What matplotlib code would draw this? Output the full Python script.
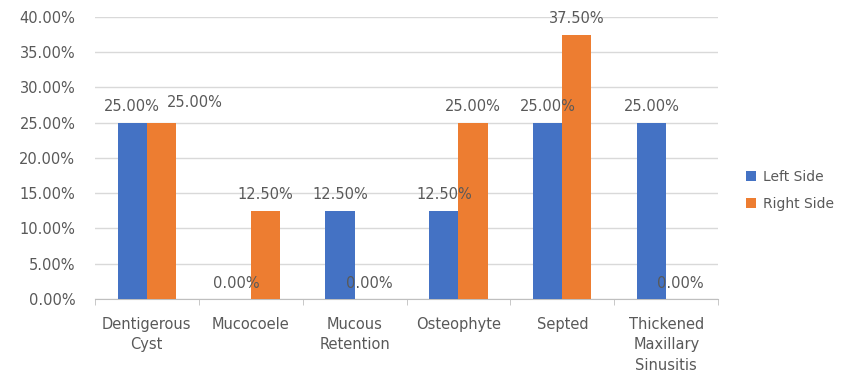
import numpy as np
import matplotlib.pyplot as plt
from matplotlib.ticker import FuncFormatter, MultipleLocator

# Findings by side (percent)
categories = ["Dentigerous\nCyst", "Mucocoele", "Mucous\nRetention", "Osteophyte",
              "Septed", "Thickened\nMaxillary\nSinusitis"]
left_side = [25.0, 0.0, 12.5, 12.5, 25.0, 25.0]
right_side = [25.0, 12.5, 0.0, 25.0, 37.5, 0.0]

blue = "#4472C4"
orange = "#ED7D31"
text_col = "#595959"

plt.rcParams['font.family'] = ['DejaVu Sans']

fig = plt.figure(figsize=(8.54, 3.76), dpi=100)
ax = fig.add_axes([0.111, 0.205, 0.730, 0.75])

x = np.arange(len(categories))
w = 0.28
b1 = ax.bar(x - w / 2, left_side, w, color=blue, label="Left Side", zorder=3)
b2 = ax.bar(x + w / 2, right_side, w, color=orange, label="Right Side", zorder=3)

# labels that would sit on top of each other get nudged aside (points)
nudge = {(1, 0): (24, 3)}

for s, (bars, vals) in enumerate([(b1, left_side), (b2, right_side)]):
    for i, (bar, v) in enumerate(zip(bars, vals)):
        dx, dy = nudge.get((s, i), (0, 0))
        ax.annotate(f"{v:.2f}%", (bar.get_x() + bar.get_width() / 2, v),
                    xytext=(dx, 6 + dy), textcoords="offset points",
                    ha="center", va="bottom", fontsize=10.5, color=text_col, zorder=4)

ax.set_xlim(-0.5, len(categories) - 0.5)
ax.set_ylim(0, 40)
ax.yaxis.set_major_locator(MultipleLocator(5))
ax.yaxis.set_major_formatter(FuncFormatter(lambda v, p: f"{v:.2f}%"))
ax.grid(axis="y", color="#d9d9d9", linewidth=1, zorder=0)

ax.set_xticks(x)
ax.set_xticklabels(categories, fontsize=10.5, color=text_col, linespacing=1.45)
ax.set_xticks(np.arange(-0.5, len(categories)), minor=True)
ax.tick_params(axis="x", which="major", length=0, pad=13)
ax.tick_params(axis="x", which="minor", length=4, color="#bfbfbf")
ax.tick_params(axis="y", length=0, labelsize=10.5, labelcolor=text_col, pad=14)

for s in ["top", "right", "left"]:
    ax.spines[s].set_visible(False)
ax.spines["bottom"].set_color("#bfbfbf")

ax.legend(loc="center left", bbox_to_anchor=(1.025, 0.385), frameon=False,
          fontsize=10, labelcolor=text_col, handlelength=0.7, handleheight=0.7,
          handletextpad=0.5, labelspacing=0.9)

fig.savefig("out.png", dpi=100)
